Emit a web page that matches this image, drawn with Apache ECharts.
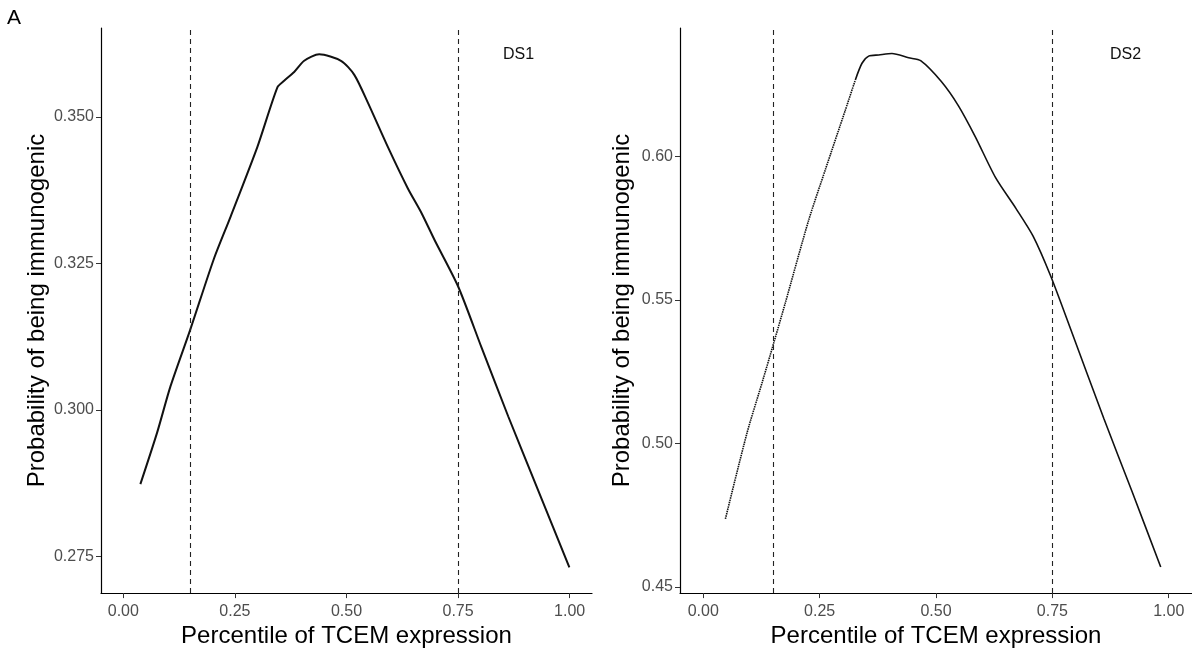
<!DOCTYPE html>
<html>
<head>
<meta charset="utf-8">
<script src="https://cdn.jsdelivr.net/npm/echarts@6/dist/echarts.min.js"></script>
<style>
  html,body{margin:0;padding:0;background:#fff;}
  #main{width:1192px;height:653px;}
</style>
</head>
<body>
<div id="main"></div>
<script>
'use strict';

// DS1 curve
var ds1X = [0.0382, 0.0757, 0.1056, 0.15, 0.203, 0.2404, 0.3004, 0.3454, 0.3603, 0.3828, 0.4052, 0.4389,
            0.4876, 0.5175, 0.5476, 0.5926, 0.6375, 0.6674, 0.6973, 0.7499, 0.8022, 0.8622, 0.9296, 0.9993];
var ds1Y = [0.2873, 0.2961, 0.3040, 0.3137, 0.3258, 0.3330, 0.3449, 0.3551, 0.3562, 0.3577, 0.3596, 0.3607,
            0.3596, 0.3572, 0.3525, 0.3449, 0.3378, 0.3337, 0.3290, 0.3211, 0.3107, 0.2989, 0.2862, 0.2731];

// DS2 curve: rising part (drawn dotted in the picture) and the rest
var ds2RiseX = [0.0476, 0.0942, 0.1264, 0.1515, 0.1764, 0.2267, 0.2623, 0.3053, 0.3267];
var ds2RiseY = [0.4737, 0.5038, 0.5212, 0.5351, 0.5491, 0.5780, 0.5955, 0.6163, 0.6268];
var ds2TopX = [0.3267, 0.341, 0.3554, 0.377, 0.4054, 0.4413, 0.467, 0.511, 0.5476, 0.584, 0.628,
               0.672, 0.7086, 0.7466, 0.789, 0.861, 0.921, 0.9828];
var ds2TopY = [0.6268, 0.6326, 0.6351, 0.6355, 0.6360, 0.6345, 0.6335, 0.6263, 0.6179, 0.6071, 0.5927,
               0.5819, 0.5723, 0.5583, 0.5400, 0.5085, 0.4833, 0.4569];

var xTicks = [0, 0.25, 0.5, 0.75, 1];
var ds1Ticks = [0.275, 0.3, 0.325, 0.35];
var ds2Ticks = [0.45, 0.5, 0.55, 0.6];
var cutoffs = [0.15, 0.75];

var FONT = 'Liberation Sans, Arial, sans-serif';

function pairs(xs, ys){
	var out = [];
	for(var i=0;i<xs.length;i++) out.push([xs[i], ys[i]]);
	return out;
}

function xAxisOf(idx){
	return {
		type:'value', gridIndex:idx, min:-0.05, max:1.05,
		name:'Percentile of TCEM expression', nameLocation:'middle', nameGap:27,
		nameTextStyle:{fontSize:24, color:'#000', fontFamily:FONT},
		splitLine:{show:false},
		axisLine:{show:true, onZero:false, lineStyle:{color:'#000', width:1.2}},
		axisTick:{show:true, length:5, customValues:xTicks, lineStyle:{color:'#333'}},
		axisLabel:{customValues:xTicks, fontSize:16, color:'#4d4d4d', fontFamily:FONT, margin:10,
			formatter:function(v){return v.toFixed(2);}}
	};
}

function yAxisOf(idx, min, max, ticks, dec, gap){
	return {
		type:'value', gridIndex:idx, min:min, max:max,
		name:'Probability of being immunogenic', nameLocation:'middle', nameGap:gap,
		nameTextStyle:{fontSize:24, color:'#000', fontFamily:FONT},
		splitLine:{show:false},
		axisLine:{show:true, onZero:false, lineStyle:{color:'#000', width:1.2}},
		axisTick:{show:true, length:5, customValues:ticks, lineStyle:{color:'#333'}},
		axisLabel:{customValues:ticks, fontSize:16, color:'#4d4d4d', fontFamily:FONT, margin:7,
			formatter:function(v){return v.toFixed(dec);}}
	};
}

function curve(idx, data, w, dash, cut){
	var s = {
		type:'line', xAxisIndex:idx, yAxisIndex:idx, data:data,
		smooth:0.25, showSymbol:false, symbol:'none', silent:true,
		lineStyle:{color:'#111', width:w, type:dash}
	};
	if(cut){
		s.markLine = {
			silent:true, symbol:'none', label:{show:false},
			lineStyle:{color:'#222', type:[5,4], width:1.1},
			data:cutoffs.map(function(c){return {xAxis:c};})
		};
	}
	return s;
}

var option = {
	animation:false,
	backgroundColor:'#fff',
	grid:[
		{left:101, right:600, top:28, bottom:59},
		{left:680, right:0, top:28, bottom:59}
	],
	xAxis:[xAxisOf(0), xAxisOf(1)],
	yAxis:[
		yAxisOf(0, 0.2687, 0.3652, ds1Ticks, 3, 52),
		yAxisOf(1, 0.4478, 0.6449, ds2Ticks, 2, 46)
	],
	graphic:[
		{type:'text', left:7, top:8, style:{text:'A', fontSize:21, fill:'#000', fontFamily:FONT}},
		{type:'text', left:503, top:47, style:{text:'DS1', fontSize:16, fill:'#111', fontFamily:FONT}},
		{type:'text', left:1110, top:47, style:{text:'DS2', fontSize:16, fill:'#111', fontFamily:FONT}}
	],
	series:[
		curve(0, pairs(ds1X, ds1Y), 2, 'solid', true),
		curve(1, pairs(ds2RiseX, ds2RiseY), 1.6, [1.5,0.8], true),
		curve(1, pairs(ds2TopX, ds2TopY), 1.6, 'solid', false)
	]
};

try{
	var myChart = echarts.init(document.getElementById('main'));
	myChart.setOption(option);
}
catch(e){
	console.log(e);
}
</script>
</body>
</html>
